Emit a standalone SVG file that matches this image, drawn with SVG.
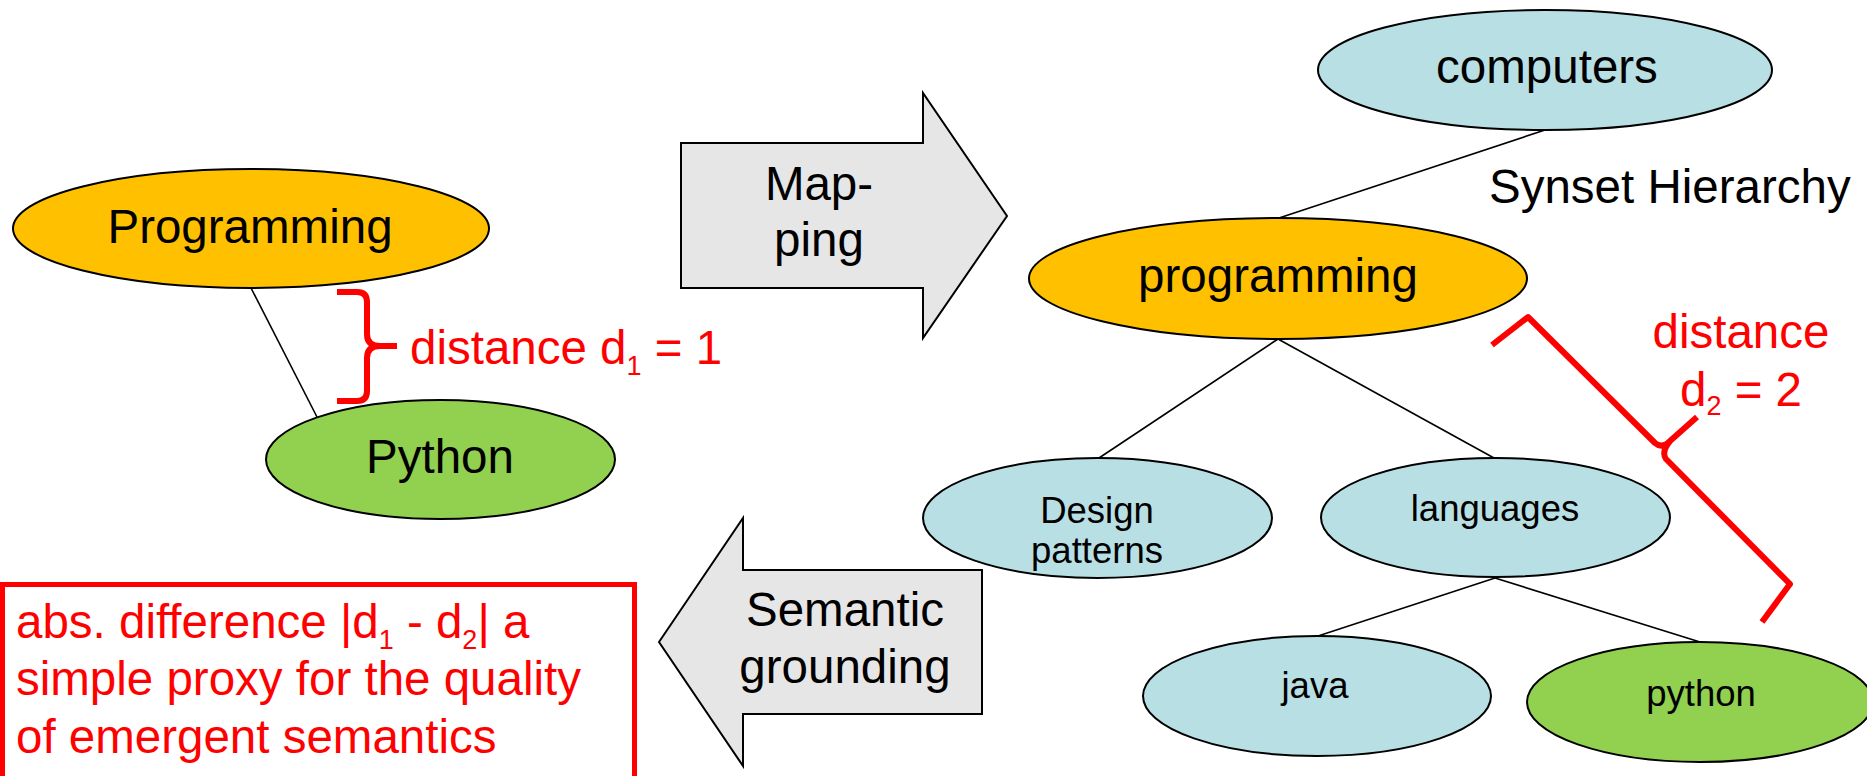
<svg xmlns="http://www.w3.org/2000/svg" width="1867" height="776" viewBox="0 0 1867 776">
  <style>
    .lbl { font-family: "Liberation Sans", Arial, sans-serif; fill: #000; }
    .big { font-size: 47.5px; }
    .small { font-size: 36.5px; }
    .red { font-family: "Liberation Sans", Arial, sans-serif; fill: #FF0000; font-size: 47.5px; }
    .sub { font-size: 27px; }
    .node { stroke: #000; stroke-width: 2; }
    .orange { fill: #FFC000; }
    .green { fill: #92D050; }
    .blue { fill: #B8DFE3; }
    .edge { stroke: #000; stroke-width: 1.6; fill: none; }
    .brace { stroke: #FF0000; stroke-width: 6; fill: none; stroke-linejoin: round; stroke-linecap: butt; }
    .bigarrow { fill: #E6E6E6; stroke: #000; stroke-width: 2; }
  </style>
  <rect width="1867" height="776" fill="#FFFFFF"/>

  <!-- connectors -->
  <g id="connectors">
    <line class="edge" x1="251" y1="288" x2="317" y2="417"/>
    <line class="edge" x1="1545" y1="130" x2="1279" y2="218"/>
    <line class="edge" x1="1278" y1="339" x2="1099" y2="458"/>
    <line class="edge" x1="1278" y1="339" x2="1494" y2="458"/>
    <line class="edge" x1="1495" y1="578" x2="1318" y2="636"/>
    <line class="edge" x1="1495" y1="578" x2="1700" y2="642"/>
  </g>

  <!-- left graph -->
  <g id="node-Programming">
    <ellipse class="node orange" cx="251" cy="228.5" rx="238" ry="59.5"/>
    <text class="lbl big" x="250" y="243" text-anchor="middle">Programming</text>
  </g>
  <g id="node-Python">
    <ellipse class="node green" cx="440.5" cy="459.5" rx="174.5" ry="59.5"/>
    <text class="lbl big" x="440" y="473" text-anchor="middle">Python</text>
  </g>

  <!-- distance brace, left -->
  <g id="distance-d1">
    <path class="brace" d="M337,292 H357 Q367,292 367,302 V334 Q367,346 380,346 H397 M380,346 Q367,346 367,358 V391 Q367,401 357,401 H337"/>
    <text class="red" x="410" y="364">distance d<tspan class="sub" dy="11">1</tspan><tspan dy="-11"> = 1</tspan></text>
  </g>

  <!-- mapping arrow -->
  <g id="arrow-mapping">
    <polygon class="bigarrow" points="681,143 923,143 923,93 1007,216 923,338 923,288 681,288"/>
    <text class="lbl big" x="819" y="200" text-anchor="middle">Map-</text>
    <text class="lbl big" x="819" y="256" text-anchor="middle">ping</text>
  </g>

  <!-- semantic grounding arrow -->
  <g id="arrow-grounding">
    <polygon class="bigarrow" points="659,642 743,518 743,570 982,570 982,714 743,714 743,766"/>
    <text class="lbl big" x="845" y="626" text-anchor="middle">Semantic</text>
    <text class="lbl big" x="845" y="683" text-anchor="middle">grounding</text>
  </g>

  <!-- result box -->
  <g id="result-box">
    <rect x="2.5" y="584.5" width="632" height="200" fill="#FFFFFF" stroke="#FF0000" stroke-width="5"/>
    <text class="red" x="16" y="638">abs. difference |d<tspan class="sub" dy="11">1</tspan><tspan dy="-11"> - d</tspan><tspan class="sub" dy="11">2</tspan><tspan dy="-11">| a</tspan></text>
    <text class="red" x="16" y="695">simple proxy for the quality</text>
    <text class="red" x="16" y="753">of emergent semantics</text>
  </g>

  <!-- synset hierarchy -->
  <g id="node-computers">
    <ellipse class="node blue" cx="1545" cy="70" rx="227" ry="60"/>
    <text class="lbl big" x="1547" y="83" text-anchor="middle">computers</text>
  </g>
  <text id="title" class="lbl big" x="1489" y="203">Synset Hierarchy</text>
  <g id="node-programming">
    <ellipse class="node orange" cx="1278" cy="278.5" rx="249" ry="60.5"/>
    <text class="lbl big" x="1278" y="292" text-anchor="middle">programming</text>
  </g>
  <g id="node-design-patterns">
    <ellipse class="node blue" cx="1097.5" cy="518" rx="174.5" ry="60"/>
    <text class="lbl small" x="1097" y="523" text-anchor="middle">Design</text>
    <text class="lbl small" x="1097" y="563" text-anchor="middle">patterns</text>
  </g>
  <g id="node-languages">
    <ellipse class="node blue" cx="1495.5" cy="517.5" rx="174.5" ry="59.5"/>
    <text class="lbl small" x="1495" y="521" text-anchor="middle">languages</text>
  </g>
  <g id="node-java">
    <ellipse class="node blue" cx="1317" cy="696" rx="174" ry="60"/>
    <text class="lbl small" x="1315" y="698" text-anchor="middle">java</text>
  </g>
  <g id="node-python">
    <ellipse class="node green" cx="1700" cy="702" rx="173" ry="60"/>
    <text class="lbl small" x="1701" y="706" text-anchor="middle">python</text>
  </g>

  <!-- distance brace, right -->
  <g id="distance-d2">
    <path class="brace" d="M1492,345 L1528,317 L1655,443 Q1662,449 1670,441 L1697,417 M1670,441 Q1661,452 1666,459 L1790,584 L1762,622"/>
    <text class="red" x="1741" y="348" text-anchor="middle">distance</text>
    <text class="red" x="1741" y="406" text-anchor="middle">d<tspan class="sub" dy="9">2</tspan><tspan dy="-9"> = 2</tspan></text>
  </g>
</svg>
